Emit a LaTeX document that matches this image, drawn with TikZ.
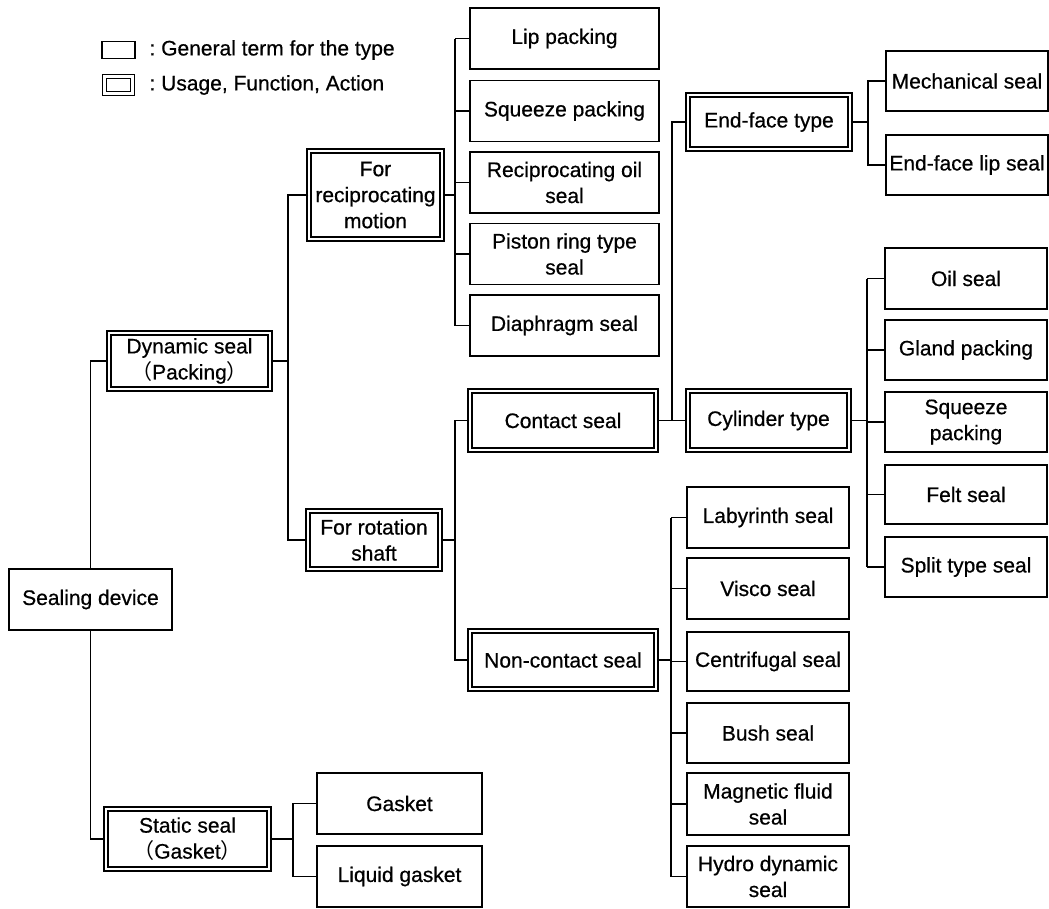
\documentclass[tikz,border=0pt]{standalone}
\usepackage{fontspec}
\setmainfont{Liberation Sans}[FakeBold=0.6]
\newfontfamily\cjk{Noto Sans CJK JP}
\begin{document}
\begin{tikzpicture}[x=1pt,y=-1pt,
  font=\fontsize{21}{26}\selectfont,
  sbox/.style={draw, line width=1.8pt, rectangle, inner sep=0pt, align=center, fill=white},
  dbox/.style={draw, line width=1.5pt, double, double distance=2.4pt, rectangle, inner sep=0pt, align=center},
  conn/.style={line width=1.8pt}]
\useasboundingbox (0,0) rectangle (1049,908);
% legend
\node[sbox, minimum width=33pt, minimum height=17pt] (lg1) at (118.5,50) {};
\node[anchor=west, font=\fontsize{21}{25}\selectfont] (lt1) at (146,50) {:\ General term for the type};
\node[dbox, minimum width=28pt, minimum height=17pt] (lg2) at (118.5,85) {};
\node[anchor=west, font=\fontsize{21}{25}\selectfont] (lt2) at (146,85) {:\ Usage, Function, Action};
% level 0
\node[sbox, minimum width=163pt, minimum height=61pt] (seal) at (90.5,599.5) {Sealing device};
% level 1
\node[dbox, minimum width=161pt, minimum height=56pt] (dyn) at (189.5,361) {Dynamic seal\\{\cjk （}Packing{\cjk ）}};
\node[dbox, minimum width=163pt, minimum height=60pt] (stat) at (187.5,839) {Static seal\\{\cjk （}Gasket{\cjk ）}};
% level 2
\node[dbox, minimum width=133pt, minimum height=88pt] (rec) at (375.5,195) {For\\reciprocating\\motion};
\node[dbox, minimum width=132pt, minimum height=58pt] (rot) at (374,540) {For rotation\\shaft};
\node[sbox, minimum width=165pt, minimum height=61pt] (gas) at (399.5,803.5) {Gasket};
\node[sbox, minimum width=165pt, minimum height=61pt] (liq) at (399.5,876.5) {Liquid gasket};
% reciprocating children
\node[sbox, minimum width=189pt, minimum height=61pt] (lip) at (564.5,38.5) {Lip packing};
\node[sbox, minimum width=189pt, minimum height=61pt] (sqa) at (564.5,111) {Squeeze packing};
\node[sbox, minimum width=189pt, minimum height=61pt] (ros) at (564.5,182.5) {Reciprocating oil\\seal};
\node[sbox, minimum width=189pt, minimum height=61pt] (pis) at (564.5,254) {Piston ring type\\seal};
\node[sbox, minimum width=189pt, minimum height=61pt] (dia) at (564.5,325.5) {Diaphragm seal};
% rotation children
\node[dbox, minimum width=186pt, minimum height=59pt] (con) at (563,420.5) {Contact seal};
\node[dbox, minimum width=186pt, minimum height=58pt] (ncon) at (563,660) {Non-contact seal};
% contact children
\node[dbox, minimum width=162pt, minimum height=54pt] (end) at (769,122) {End-face type};
\node[dbox, minimum width=161pt, minimum height=59pt] (cyl) at (768.5,420.5) {Cylinder type};
\node[sbox, minimum width=162pt, minimum height=60pt] (mech) at (967,81) {Mechanical seal};
\node[sbox, minimum width=162pt, minimum height=60pt] (elip) at (967,165) {End-face lip seal};
\node[sbox, minimum width=162pt, minimum height=61pt] (oil) at (966,278.5) {Oil seal};
\node[sbox, minimum width=162pt, minimum height=60pt] (gland) at (966,350) {Gland packing};
\node[sbox, minimum width=162pt, minimum height=60pt] (sqb) at (966,422) {Squeeze\\packing};
\node[sbox, minimum width=162pt, minimum height=59pt] (felt) at (966,494.5) {Felt seal};
\node[sbox, minimum width=162pt, minimum height=60pt] (split) at (966,567) {Split type seal};
% non-contact children
\node[sbox, minimum width=162pt, minimum height=61pt] (lab) at (768,517.5) {Labyrinth seal};
\node[sbox, minimum width=162pt, minimum height=61pt] (visco) at (768,588.5) {Visco seal};
\node[sbox, minimum width=162pt, minimum height=59pt] (cent) at (768,661.5) {Centrifugal seal};
\node[sbox, minimum width=162pt, minimum height=60pt] (bush) at (768,733) {Bush seal};
\node[sbox, minimum width=162pt, minimum height=62pt] (mag) at (768,804) {Magnetic fluid\\seal};
\node[sbox, minimum width=162pt, minimum height=61pt] (hyd) at (768,876.5) {Hydro dynamic\\seal};
% bus coordinates
\coordinate (b1) at (288,0);
\coordinate (b2) at (455,0);
\coordinate (b3) at (672,0);
\coordinate (b4) at (868,0);
\coordinate (b5) at (867,0);
\coordinate (b6) at (671,0);
\coordinate (b7) at (293,0);
% connectors
\draw[conn] (seal.north) |- (dyn.west);
\draw[conn] (seal.south) |- (stat.west);
\draw[conn] (dyn.east) -- (dyn.east -| b1);
\draw[conn] (rec.west) -- (rec.west -| b1) -- (rot.west -| b1) -- (rot.west);
% reciprocating bus
\draw[conn] (lip.west -| b2) -- (dia.west -| b2);
\draw[conn] (rec.east) -- (rec.east -| b2);
\foreach \n in {lip,sqa,ros,pis,dia} \draw[conn] (\n.west) -- (\n.west -| b2);
% rotation bus
\draw[conn] (con.west) -- (con.west -| b2) -- (ncon.west -| b2) -- (ncon.west);
\draw[conn] (rot.east) -- (rot.east -| b2);
% contact
\draw[conn] (con.east) -- (cyl.west);
\draw[conn] (end.west) -- (end.west -| b3) -- (con.east -| b3);
\draw[conn] (mech.west) -- (mech.west -| b4) -- (elip.west -| b4) -- (elip.west);
\draw[conn] (end.east) -- (end.east -| b4);
\draw[conn] (oil.west -| b5) -- (split.west -| b5);
\draw[conn] (cyl.east) -- (cyl.east -| b5);
\foreach \n in {oil,gland,sqb,felt,split} \draw[conn] (\n.west) -- (\n.west -| b5);
% non-contact
\draw[conn] (lab.west -| b6) -- (hyd.west -| b6);
\draw[conn] (ncon.east) -- (ncon.east -| b6);
\foreach \n in {lab,visco,cent,bush,mag,hyd} \draw[conn] (\n.west) -- (\n.west -| b6);
% static
\draw[conn] (gas.west) -- (gas.west -| b7) -- (liq.west -| b7) -- (liq.west);
\draw[conn] (stat.east) -- (stat.east -| b7);
\end{tikzpicture}
\end{document}
